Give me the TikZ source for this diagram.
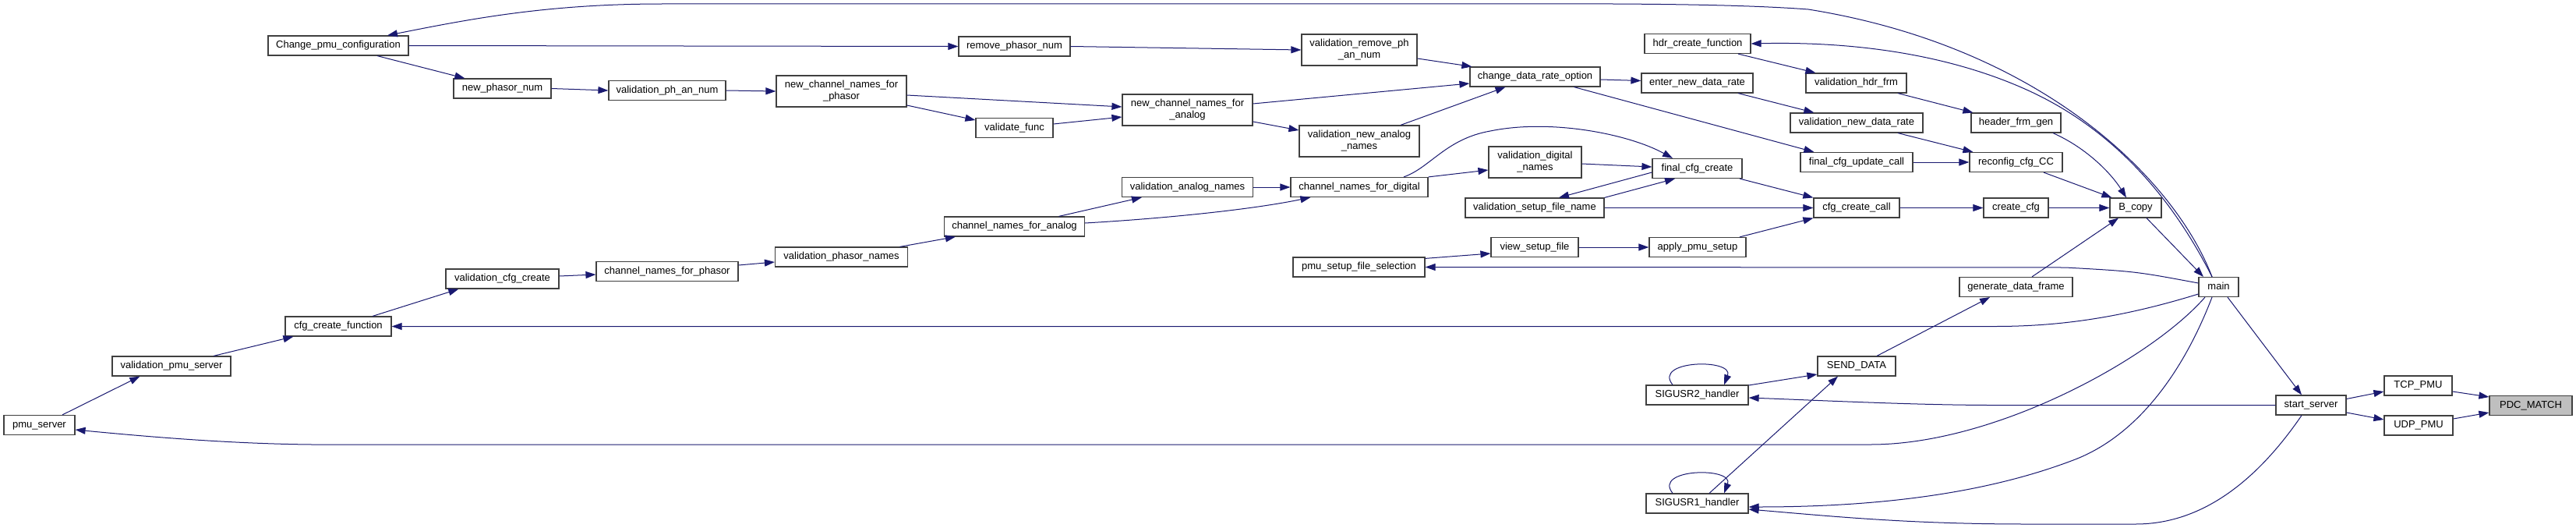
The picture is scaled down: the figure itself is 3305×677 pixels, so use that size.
\documentclass[tikz,border=0pt]{standalone}
\usepackage{fontspec}
\setmainfont{Liberation Sans}
\usetikzlibrary{arrows.meta}
\definecolor{edgec}{HTML}{191970}
\definecolor{bord}{HTML}{404040}
\definecolor{hlfill}{HTML}{BFBFBF}
\begin{document}
\begin{tikzpicture}[x=1pt,y=-1pt,
  fn/.style={draw=bord, fill=white, line width=1.2pt, minimum height=25pt, inner sep=0pt,
    text height=9.5pt, text depth=2.8pt, font=\fontsize{13}{15}\selectfont},
  fntwo/.style={draw=bord, fill=white, line width=1.2pt, minimum height=40pt, inner sep=0pt,
    align=center, font=\fontsize{13}{15}\selectfont},
  focus/.style={fn, fill=hlfill},
  ed/.style={draw=edgec, line width=1pt, -{Triangle[length=13pt,width=9pt]}}]
\useasboundingbox (0,0) rectangle (3305,677);
\fill[white] (0,0) rectangle (3305,677);

% nodes
\node[fn, minimum width=180pt] (chg) at (434,58.5) {Change\_pmu\_configuration};
\node[fn, minimum width=136pt] (cfgf) at (434,418.5) {cfg\_create\_function};
\node[fn, minimum width=125pt] (npn) at (644.5,113.5) {new\_phasor\_num};
\node[fn, minimum width=145pt] (vcc) at (644.5,357.5) {validation\_cfg\_create};
\node[fn, minimum width=150pt] (vpan) at (856,116) {validation\_ph\_an\_num};
\node[fn, minimum width=182pt] (cnp) at (856,348) {channel\_names\_for\_phasor};
\node[fntwo, minimum width=167pt] (ncp) at (1079.5,117) {new\_channel\_names\_for\\\_phasor};
\node[fn, minimum width=170pt] (vpn) at (1079.5,329.5) {validation\_phasor\_names};
\node[fn, minimum width=143pt] (rem) at (1301.5,59.5) {remove\_phasor\_num};
\node[fn, minimum width=99pt] (vf) at (1301.5,164) {validate\_func};
\node[fn, minimum width=180pt] (cna) at (1301.5,290.5) {channel\_names\_for\_analog};
\node[fntwo, minimum width=167pt] (nca) at (1523.5,141) {new\_channel\_names\_for\\\_analog};
\node[fn, minimum width=168pt] (van) at (1523.5,240) {validation\_analog\_names};
\node[fntwo, minimum width=148pt] (vrp) at (1744,64) {validation\_remove\_ph\\\_an\_num};
\node[fntwo, minimum width=154pt] (vna) at (1744,181) {validation\_new\_analog\\\_names};
\node[fn, minimum width=176pt] (cnd) at (1744,240) {channel\_names\_for\_digital};
\node[fn, minimum width=169pt] (psfs) at (1743.5,342.5) {pmu\_setup\_file\_selection};
\node[fn, minimum width=167pt] (cdr) at (1969.5,98.5) {change\_data\_rate\_option};
\node[fntwo, minimum width=119pt] (vdn) at (1969.5,208) {validation\_digital\\\_names};
\node[fn, minimum width=178pt] (vsfn) at (1969,266.5) {validation\_setup\_file\_name};
\node[fn, minimum width=112pt] (vsf) at (1969,317) {view\_setup\_file};
\node[fn, minimum width=136pt] (hdr) at (2178,56) {hdr\_create\_function};
\node[fn, minimum width=143pt] (endr) at (2177.5,106.5) {enter\_new\_data\_rate};
\node[fn, minimum width=115pt] (fcc) at (2177.5,216) {final\_cfg\_create};
\node[fn, minimum width=124pt] (aps) at (2178,317) {apply\_pmu\_setup};
\node[fn, minimum width=131pt] (s2) at (2177.5,506.5) {SIGUSR2\_handler};
\node[fn, minimum width=131pt] (s1) at (2177.5,645.5) {SIGUSR1\_handler};
\node[fn, minimum width=129pt] (vhf) at (2381.5,106.5) {validation\_hdr\_frm};
\node[fn, minimum width=170pt] (vndr) at (2382,157.5) {validation\_new\_data\_rate};
\node[fn, minimum width=144pt] (fcu) at (2382,208) {final\_cfg\_update\_call};
\node[fn, minimum width=110pt] (ccc) at (2382,266.5) {cfg\_create\_call};
\node[fn, minimum width=100pt] (sd) at (2382,469.5) {SEND\_DATA};
\node[fn, minimum width=115pt] (hfg) at (2586.5,157.5) {header\_frm\_gen};
\node[fn, minimum width=119pt] (rcc) at (2586.5,208) {reconfig\_cfg\_CC};
\node[fn, minimum width=83pt] (ccfg) at (2586.5,266.5) {create\_cfg};
\node[fn, minimum width=145pt] (gdf) at (2586.5,368) {generate\_data\_frame};
\node[fn, minimum width=66pt] (bcp) at (2740,266.5) {B\_copy};
\node[fn, minimum width=51pt] (main) at (2846.5,368) {main};
\node[fn, minimum width=90pt] (ss) at (2965,519.5) {start\_server};
\node[fn, minimum width=87pt] (tcp) at (3102.5,494.5) {TCP\_PMU};
\node[fn, minimum width=88pt] (udp) at (3103,545.5) {UDP\_PMU};
\node[focus, minimum width=106pt] (pdc) at (3247,520) {PDC\_MATCH};
\node[fn, minimum width=152pt] (vps) at (220,469.5) {validation\_pmu\_server};
\node[fn, minimum width=91pt] (pmus) at (50.5,545) {pmu\_server};

% edges
\draw[ed] ([xshift=-8.5pt]main.north) .. controls (2790,230) and (2620,60) .. (2320,12)
  .. controls (2200,3) and (2000,5) .. (1800,5) -- (850,5)
  .. controls (700,5) and (600,25) .. ([xshift=63pt]chg.north);
\draw[ed] ([xshift=-8.5pt]main.north) .. controls (2780,240) and (2700,160) .. (2600,115)
  .. controls (2500,70) and (2380,53) .. (hdr.east);
\draw[ed] (chg.east) -- (rem.west);
\draw[ed] ([xshift=50pt]chg.south) -- ([xshift=15pt]npn.north west);
\draw[ed] (npn.east) -- (vpan.west);
\draw[ed] (vpan.east) -- (ncp.west);
\draw[ed] ([yshift=-5pt]ncp.east) -- ([yshift=4pt]nca.west);
\draw[ed] ([yshift=-18pt]ncp.east) -- ([yshift=10pt]vf.west);
\draw[ed] ([yshift=5pt]vf.east) -- ([yshift=-9pt]nca.west);
\draw[ed] (rem.east) -- (vrp.west);
\draw[ed] ([yshift=8pt]nca.east) -- ([yshift=-8.5pt]cdr.west);
\draw[ed] ([yshift=-15pt]nca.east) -- ([yshift=14pt]vna.west);
\draw[ed] ([yshift=-11pt]vrp.east) -- ([xshift=3pt]cdr.north west);
\draw[ed] ([xshift=53pt]vna.north) -- ([xshift=-38pt]cdr.south);
\draw[ed] ([yshift=-3.5pt]cdr.east) -- ([yshift=3pt]endr.west);
\draw[ed] ([xshift=50pt]cdr.south) -- ([xshift=18pt]fcu.north west);
\draw[ed] ([xshift=52pt]hdr.south) -- ([xshift=13pt]vhf.north west);
\draw[ed] ([xshift=52.5pt]endr.south) -- ([xshift=31pt]vndr.north west);
\draw[ed] ([xshift=53.5pt]vhf.south) -- ([xshift=3pt]hfg.north west);
\draw[ed] ([xshift=53pt]vndr.south) -- ([xshift=5pt]rcc.north west);
\draw[ed] (fcu.east) -- (rcc.west);
\draw[ed] ([xshift=47.5pt]hfg.south) .. controls +(45,20) and +(-18,-29) .. ([xshift=-12pt]bcp.north);
\draw[ed] ([xshift=35.5pt]rcc.south) -- ([xshift=3pt]bcp.north west);
\draw[ed] (ccfg.east) -- (bcp.west);
\draw[ed] (ccc.east) -- (ccfg.west);
\draw[ed] ([xshift=20.5pt]gdf.north) -- ([xshift=-22pt]bcp.south);
\draw[ed] ([xshift=14pt]bcp.south) -- ([xshift=-19.5pt]main.north);
\draw[ed] ([xshift=54.5pt]fcc.south) -- (ccc.north west);
\draw[ed] (vsfn.east) -- (ccc.west);
\draw[ed] ([xshift=54pt]aps.north) -- (ccc.south west);
\draw[ed] ([yshift=-2pt]vdn.east) -- ([yshift=2pt]fcc.west);
\draw[ed] ([xshift=57pt]cnd.north) .. controls (1835,215) and (1855,178) .. (1912,168)
  .. controls (1990,152) and (2090,172) .. ([xshift=-31.5pt]fcc.north);
\draw[ed] (cnd.north east) -- ([yshift=-10pt]vdn.west);
\draw[ed] ([yshift=-5pt]fcc.west) -- ([xshift=31pt]vsfn.north);
\draw[ed] (vsfn.north east) -- ([xshift=-28.5pt]fcc.south);
\draw[ed] (vsf.east) -- (aps.west);
\draw[ed] ([yshift=-2pt]psfs.north east) -- ([yshift=-8pt]vsf.west);
\draw[ed] ([yshift=5pt]main.west) .. controls (2740,348) .. (2650,343) -- (psfs.east);
\draw[ed] ([yshift=-9pt]main.west) .. controls (2720,408) and (2640,418.5) .. (2560,418.5) -- (cfgf.east);
\draw[ed] ([xshift=44pt]cfgf.north) -- ([xshift=17pt]vcc.south west);
\draw[ed] ([xshift=54pt]vps.north) -- ([xshift=11pt]cfgf.south west);
\draw[ed] ([xshift=29.5pt]pmus.north) -- ([xshift=36pt]vps.south west);
\draw[ed] ([yshift=3.5pt]vcc.east) -- ([yshift=-4pt]cnp.west);
\draw[ed] ([yshift=8pt]cnp.east) -- ([yshift=-6.5pt]vpn.west);
\draw[ed] ([xshift=75pt]vpn.north) -- ([xshift=15pt]cna.south west);
\draw[ed] ([xshift=57pt]cna.north) -- ([xshift=26pt]van.south west);
\draw[ed] ([yshift=4.5pt]cna.east) .. controls (1480,281) and (1600,270) .. ([xshift=26pt]cnd.south west);
\draw[ed] (van.east) -- (cnd.west);
\draw[ed] ([xshift=-17.5pt]main.south) .. controls (2760,460) and (2560,570) .. (2400,570) -- (400,570)
  .. controls (300,569) and (200,561) .. ([yshift=-6pt]pmus.east);
\draw[ed] ([xshift=-8.5pt]main.south) .. controls (2800,480) and (2740,560) .. (2660,590)
  .. controls (2560,628) and (2430,650) .. ([yshift=-4.5pt]s1.east);
\draw[ed] ([xshift=11.5pt]main.south) -- ([xshift=-12pt]ss.north);
\draw[ed] ([yshift=8pt]ss.east) -- ([yshift=-7.5pt]tcp.west);
\draw[ed] ([yshift=-9.5pt]ss.east) -- ([yshift=7.5pt]udp.west);
\draw[ed] ([yshift=-7.5pt]tcp.east) -- ([yshift=11pt]pdc.west);
\draw[ed] ([yshift=8.5pt]udp.east) -- ([yshift=-9pt]pdc.west);
\draw[ed] (ss.west) -- (2550,519.5) .. controls (2450,519) and (2350,514) .. ([yshift=-3.5pt]s2.east);
\draw[ed] ([xshift=-12pt]ss.south) .. controls (2900,610) and (2830,672) .. (2740,672) -- (2600,672)
  .. controls (2450,672) and (2350,662) .. ([yshift=-7.5pt]s1.east);
\draw[ed] ([yshift=12.5pt]s2.east) -- ([yshift=-10.5pt]sd.west);
\draw[ed] ([xshift=15.5pt]s1.north) -- ([xshift=-24pt]sd.south);
\draw[ed] ([xshift=26pt]sd.north) -- ([xshift=-33.5pt]gdf.south);
\draw[ed] ([xshift=-31.5pt]s2.north) .. controls +(-26,-32) and +(13,-34) .. ([xshift=34.5pt]s2.north);
\draw[ed] ([xshift=-31.5pt]s1.north) .. controls +(-26,-32) and +(13,-34) .. ([xshift=34.5pt]s1.north);
\end{tikzpicture}
\end{document}
